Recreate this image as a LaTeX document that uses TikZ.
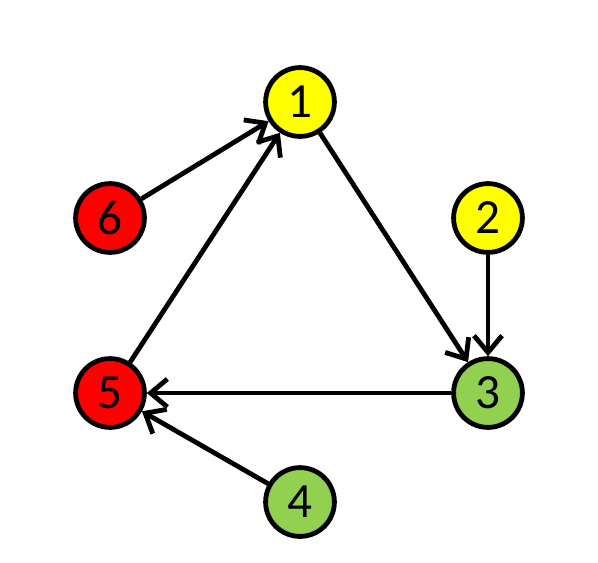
\documentclass[tikz,border=0pt]{standalone}
\usepackage{fontspec}
\setmainfont{Carlito}
\usetikzlibrary{arrows.meta}
\definecolor{gyellow}{RGB}{255,255,0}
\definecolor{gred}{RGB}{255,0,0}
\definecolor{ggreen}{RGB}{146,208,80}
\begin{document}
\begin{tikzpicture}[x=0.025cm,y=-0.025cm,
      v/.style={circle,draw,line width=0.12cm,minimum size=1.72cm,inner sep=0pt,
        font=\fontsize{35}{35}\selectfont},
      a/.style={-{Straight Barb[length=0.42cm,width=0.7cm]},line width=0.12cm}]
      \useasboundingbox (0,0) rectangle (598,562);
      \node[v,fill=gyellow] (n1) at (300,102) {1};
      \node[v,fill=gyellow] (n2) at (488,218) {2};
      \node[v,fill=ggreen] (n3) at (488,393) {3};
      \node[v,fill=ggreen] (n4) at (300,502) {4};
      \node[v,fill=gred] (n5) at (110,393) {5};
      \node[v,fill=gred] (n6) at (110,218) {6};
      \draw[a] (n6)--(n1);
      \draw[a] (n5)--(n1);
      \draw[a] (n1)--(n3);
      \draw[a] (n2)--(n3);
      \draw[a] (n3)--(n5);
      \draw[a] (n4)--(n5);
    \end{tikzpicture}
\end{document}
